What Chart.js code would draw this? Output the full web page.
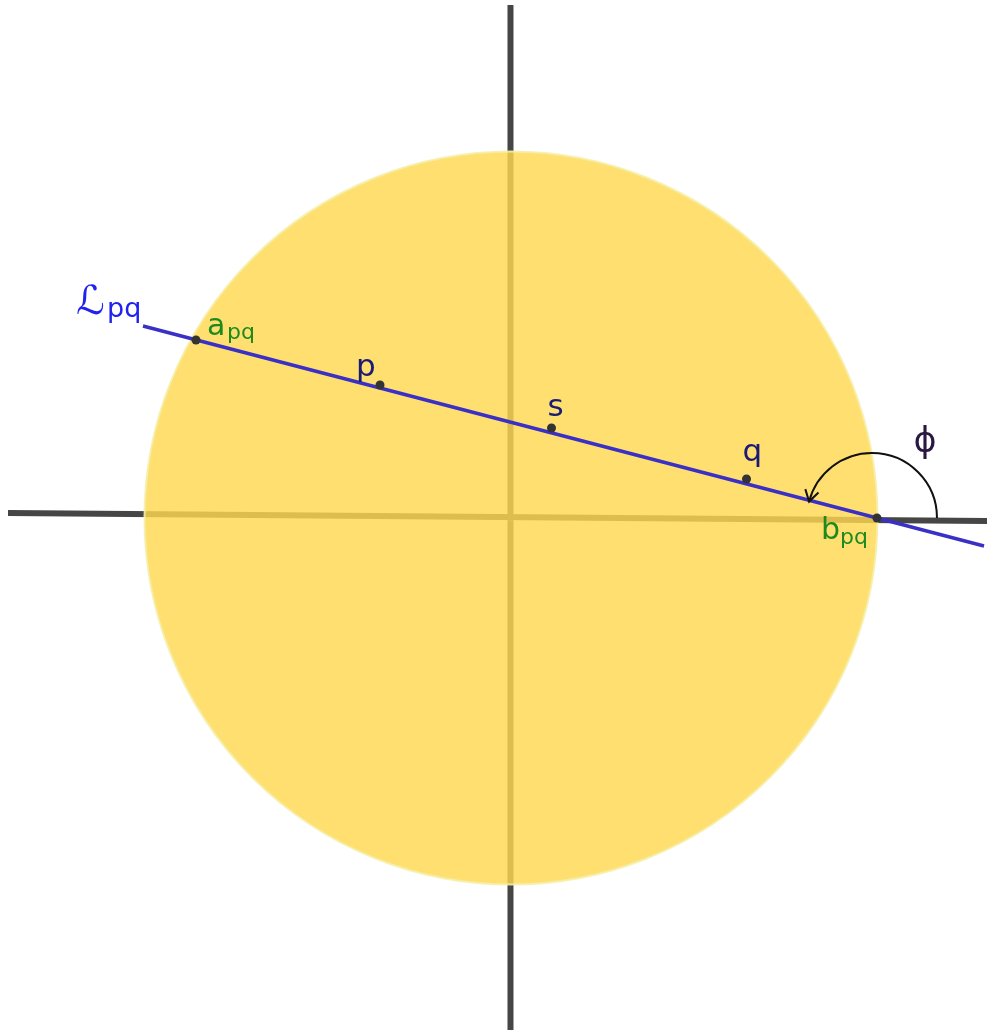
<!DOCTYPE html>
<html>
<head>
<meta charset="utf-8">
<script src="https://cdn.jsdelivr.net/npm/chart.js@4.4.1/dist/chart.umd.min.js"></script>
<style>
  html, body { margin: 0; padding: 0; background: #ffffff; }
  #wrap { width: 987px; height: 1030px; }
</style>
</head>
<body>
<div id="wrap"><canvas id="diagram"></canvas></div>
<script>
// Unit circle centred on the origin; everything in data units
const axisH = [{ x: -1.3724, y: 0.0136 }, { x: 1.2988, y: -0.0082 }];
const axisV = [{ x: -0.0014, y: 1.3997 }, { x: -0.0014, y: -1.397 }];
const lineL = [{ x: -1.0041, y: 0.5239 }, { x: 1.2906, y: -0.0764 }];

// Named points on the line
const pointNames = ["apq", "p", "s", "q", "bpq"];
const pointX = [-0.8595, -0.3574, 0.1105, 0.6426, 0.9986];
const pointY = [0.4857, 0.3629, 0.2456, 0.1064, 0.0];

const circleCentre = { x: 0, y: 0 };
const circleRadius = 1;

const FONT = '"DejaVu Sans", sans-serif';

const points = pointX.map((x, i) => ({ x: x, y: pointY[i] }));

// Yellow disc sits over the axes but under the line
const discPlugin = {
  id: "disc",
  afterDatasetDraw(chart, args) {
    if (args.index !== 0) return;
    const ctx = chart.ctx;
    const xs = chart.scales.x, ys = chart.scales.y;
    const cx = xs.getPixelForValue(circleCentre.x);
    const cy = ys.getPixelForValue(circleCentre.y);
    const r = xs.getPixelForValue(circleRadius) - xs.getPixelForValue(0);
    ctx.save();
    ctx.beginPath();
    ctx.arc(cx, cy, r, 0, Math.PI * 2);
    ctx.fillStyle = "rgba(255, 216, 80, 0.82)";
    ctx.fill();
    ctx.lineWidth = 2;
    ctx.strokeStyle = "rgba(245, 240, 170, 0.9)";
    ctx.stroke();
    ctx.restore();
  }
};

// Labels and the angle arc
const labelPlugin = {
  id: "labels",
  afterDatasetsDraw(chart) {
    const ctx = chart.ctx;
    const xs = chart.scales.x, ys = chart.scales.y;
    const px = (p) => [xs.getPixelForValue(p.x), ys.getPixelForValue(p.y)];
    ctx.save();
    ctx.textBaseline = "alphabetic";
    ctx.textAlign = "left";

    // L_pq
    const [lx, ly] = px(lineL[0]);
    ctx.fillStyle = "#2222ee";
    ctx.font = "40px " + FONT;
    ctx.fillText("\u2112", lx - 67, ly - 12);
    ctx.font = "27px " + FONT;
    ctx.fillText("pq", lx - 36, ly - 9);

    const pp = points.map(px);
    // a_pq
    ctx.fillStyle = "#1e8a1e";
    ctx.font = "30px " + FONT;
    ctx.fillText("a", pp[0][0] + 11, pp[0][1] - 5);
    ctx.font = "22px " + FONT;
    ctx.fillText("pq", pp[0][0] + 31, pp[0][1] - 1);
    // b_pq
    ctx.font = "30px " + FONT;
    ctx.fillText("b", pp[4][0] - 56, pp[4][1] + 21);
    ctx.font = "22px " + FONT;
    ctx.fillText("pq", pp[4][0] - 37, pp[4][1] + 26);

    // p, s, q
    ctx.fillStyle = "#1b1b74";
    ctx.font = "31px " + FONT;
    ctx.fillText("p", pp[1][0] - 24, pp[1][1] - 9);
    ctx.fillText("s", pp[2][0] - 4, pp[2][1] - 12);
    ctx.fillText("q", pp[3][0] - 4, pp[3][1] - 18);

    // angle arc from the axis round to the line
    const [ex, ey] = px(lineL[1]);
    const ang = Math.atan2(ey - ly, ex - lx);
    const cx = pp[4][0] - 5, cy = pp[4][1];
    const r = 65;
    const end = -(Math.PI - ang);
    ctx.strokeStyle = "#111111";
    ctx.lineWidth = 2;
    ctx.beginPath();
    ctx.arc(cx, cy, r, 0, end, true);
    ctx.stroke();
    const tx = cx + r * Math.cos(end), ty = cy + r * Math.sin(end);
    const back = Math.atan2(-Math.cos(end), Math.sin(end)) + Math.PI;
    ctx.beginPath();
    ctx.moveTo(tx + 13 * Math.cos(back - 0.55), ty + 13 * Math.sin(back - 0.55));
    ctx.lineTo(tx, ty);
    ctx.lineTo(tx + 13 * Math.cos(back + 0.55), ty + 13 * Math.sin(back + 0.55));
    ctx.stroke();

    ctx.fillStyle = "#2a1840";
    ctx.font = "35px " + FONT;
    ctx.textAlign = "center";
    ctx.textBaseline = "middle";
    ctx.fillText("\u03D5", cx + 53, cy - 75);
    ctx.restore();
  }
};

new Chart(document.getElementById("diagram"), {
  type: "scatter",
  plugins: [discPlugin, labelPlugin],
  data: {
    datasets: [
      {
        label: "axes",
        data: [axisH[0], axisH[1], { x: 0, y: null }, axisV[0], axisV[1]],
        showLine: true,
        spanGaps: false,
        borderColor: "#464646",
        borderWidth: 6,
        pointRadius: 0,
        order: 3
      },
      {
        label: "L",
        data: lineL,
        showLine: true,
        borderColor: "#3a30c6",
        borderWidth: 3.5,
        pointRadius: 0,
        order: 1
      },
      {
        label: "points",
        data: points,
        pointRadius: 4.5,
        pointBackgroundColor: "#333333",
        pointBorderWidth: 0,
        order: 0
      }
    ]
  },
  options: {
    responsive: true,
    maintainAspectRatio: false,
    animation: false,
    layout: { padding: 0, autoPadding: false },
    plugins: { legend: { display: false }, tooltip: { enabled: false } },
    scales: {
      x: { type: "linear", display: false, min: -1.39427, max: 1.29877 },
      y: { type: "linear", display: false, min: -1.397, max: 1.41337 }
    }
  }
});
</script>
</body>
</html>
